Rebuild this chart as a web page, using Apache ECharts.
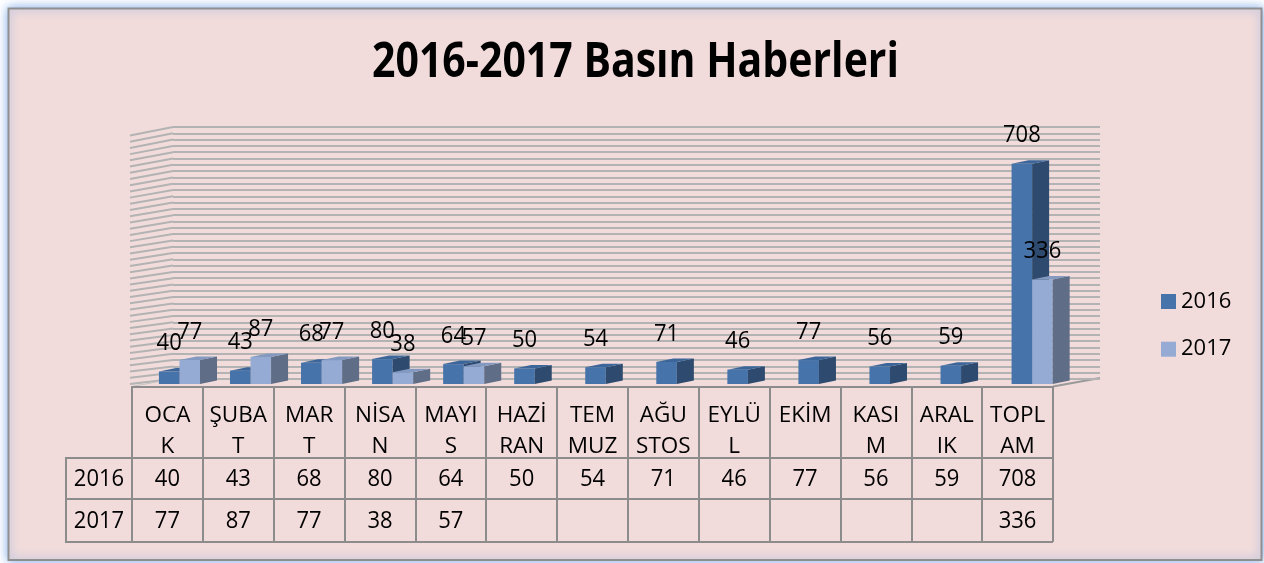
<!DOCTYPE html>
<html>
<head>
<meta charset="utf-8">
<script src="https://cdn.jsdelivr.net/npm/echarts@6/dist/echarts.min.js"></script>
<style>
html,body{margin:0;padding:0;background:#ffffff;}
#chart{width:1264px;height:563px;}
</style>
</head>
<body>
<div id="chart"></div>
<script>
const titleText = '2016-2017 Basın Haberleri';
const categories = ['OCA\nK','ŞUBA\nT','MAR\nT','NİSA\nN','MAYI\nS','HAZİ\nRAN','TEM\nMUZ','AĞU\nSTOS','EYLÜ\nL','EKİM','KASI\nM','ARAL\nIK','TOPL\nAM'];
const seriesNames = ['2016','2017'];
const values2016 = [40,43,68,80,64,50,54,71,46,77,56,59,708];
const values2017 = [77,87,77,38,57,null,null,null,null,null,null,null,336];
const yMax = 800;
const yStep = 20;

const FONT = 'Open Sans';
const palette = [
  {front:'#4673A9', side:'#2E4A6E', top:'#3C6699'},
  {front:'#95ABD3', side:'#5F6D87', top:'#8499C0'}
];
const tableRowY = [479, 521];
const TXT = '22px "' + FONT + '"';

function makeRender(slot){
  const pal = palette[slot];
  return function(params, api){
    const idx = api.value(0);
    const v = api.value(1);
    const base = api.coord([idx, 0]);
    const bw = api.size([1, 0])[0];
    const cx = base[0];
    const children = [];
    if (v == null || isNaN(v)) return {type:'group', children};
    children.push({type:'text', silent:true, x:cx, y:tableRowY[slot], scaleY:1.06, style:{x:0, y:0, text:String(v), fill:'#000', font:TXT, align:'center', verticalAlign:'middle'}});
    const top = api.coord([idx, v]);
    const persp = (cx - 167) / 850 * 2.5;
    const w = bw * 0.29;
    const x0 = cx - bw * 0.12 + persp + slot * w;
    const y0 = base[1] - 2.5;
    const y1 = top[1] - 2.5;
    const dx = 17, dy = -3.5;
    children.push({type:'rect', shape:{x:x0, y:y1, width:w, height:y0 - y1}, style:{fill:pal.front}});
    children.push({type:'polygon', shape:{points:[[x0+w,y0],[x0+w,y1],[x0+w+dx,y1+dy],[x0+w+dx,y0+dy]]}, style:{fill:pal.side}});
    children.push({type:'polygon', shape:{points:[[x0,y1],[x0+w,y1],[x0+w+dx,y1+dy],[x0+dx,y1+dy]]}, style:{fill:pal.top}});
    children.push({type:'text', silent:true, x:x0 + w/2, y:y1 - 28, scaleY:1.06, style:{x:0, y:0, text:String(v), fill:'#000', font:TXT, align:'center', verticalAlign:'middle'}});
    return {type:'group', children};
  };
}

const chart = echarts.init(document.getElementById('chart'), null, {renderer:'canvas'});
const option = {
  backgroundColor: '#ffffff',
  animation: false,
  legend: {
    orient: 'vertical', left: 1161, top: 288.5, padding: 0,
    itemWidth: 15, itemHeight: 15, itemGap: 21.7, icon: 'rect',
    textStyle: {fontFamily: FONT, fontSize: 22, color: '#000', lineHeight: 26},
    data: seriesNames
  },
  grid: [
    {left: 132, right: 211, top: 137.7, bottom: 176.5, containLabel: false},
    {left: 173, right: 164, top: 127, bottom: 184, containLabel: false}
  ],
  xAxis: [
    {
      type: 'category', gridIndex: 0, data: categories, boundaryGap: true,
      axisLine: {show: true, lineStyle: {color: '#8c8c8c', width: 2}},
      axisTick: {show: true, alignWithLabel: false, length: 155.5, lineStyle: {color: '#8c8c8c', width: 2}},
      axisLabel: {interval: 0, margin: 13, fontFamily: FONT, fontSize: 22.5, color: '#000', lineHeight: 31.5, verticalAlign: 'top'},
      splitLine: {show: false}
    },
    {type: 'category', gridIndex: 1, data: categories, show: false}
  ],
  yAxis: [
    {type: 'value', gridIndex: 0, min: 0, max: yMax, interval: yStep, show: false, splitLine: {show: false}},
    {type: 'value', gridIndex: 1, min: 0, max: yMax, interval: yStep, show: true,
      axisLine: {show: false}, axisTick: {show: false}, axisLabel: {show: false},
      splitLine: {show: true, lineStyle: {color: '#b3b3b3', width: 2}}}
  ],
  series: [
    {name: seriesNames[0], type: 'custom', xAxisIndex: 0, yAxisIndex: 0, renderItem: makeRender(0),
      itemStyle: {color: palette[0].front}, encode: {x: 0, y: 1}, clip: false, z: 5,
      data: values2016.map((v, i) => [i, v])},
    {name: seriesNames[1], type: 'custom', xAxisIndex: 0, yAxisIndex: 0, renderItem: makeRender(1),
      itemStyle: {color: palette[1].front}, encode: {x: 0, y: 1}, clip: false, z: 6,
      data: values2017.map((v, i) => [i, v])}
  ]
};
chart.setOption(option);

// decorative frame, title, left wall, floor and table rules
const gfx = [];
gfx.push({type:'rect', z:-100, silent:true, shape:{x:8.5, y:8.5, width:1253, height:551.5},
  style:{fill:'#f2dcdb', stroke:'#8f8f8f', lineWidth:2, shadowBlur:10, shadowColor:'rgba(110,160,230,0.9)'}});
gfx.push({type:'text', silent:true, x:635.5, y:63, scaleY:1.16,
  style:{x:0, y:0, text:titleText, fill:'#000', font:'bold 41px "' + FONT + '"', align:'center', verticalAlign:'middle'}});
for (let v = 0; v <= yMax; v += yStep) {
  const yb = chart.convertToPixel({yAxisIndex: 1}, v);
  const drop = 5 + 3.5 * (v / yMax);
  gfx.push({type:'polyline', z:-50, silent:true, shape:{points:[[130, yb + drop],[173, yb]]}, style:{stroke:'#b3b3b3', lineWidth:2}});
}
const y0main = chart.convertToPixel({yAxisIndex: 0}, 0);
const y0back = chart.convertToPixel({yAxisIndex: 1}, 0);
const xRight = 1264 - 211;
gfx.push({type:'polyline', z:-40, silent:true, shape:{points:[[xRight, y0main],[1100, y0back - 1]]}, style:{stroke:'#9a9a9a', lineWidth:2}});
gfx.push({type:'polyline', z:-40, silent:true, shape:{points:[[132, y0main],[173, y0back]]}, style:{stroke:'#c4c4c4', lineWidth:1}});
[458, 499, 542].forEach(y => gfx.push({type:'line', silent:true, shape:{x1:65, y1:y, x2:xRight, y2:y}, style:{stroke:'#8c8c8c', lineWidth:2}}));
gfx.push({type:'line', silent:true, shape:{x1:66, y1:458, x2:66, y2:542}, style:{stroke:'#8c8c8c', lineWidth:2}});
seriesNames.forEach((n, k) => gfx.push({type:'text', silent:true, x:99, y:tableRowY[k], scaleY:1.06, style:{x:0, y:0, text:n, fill:'#000', font:TXT, align:'center', verticalAlign:'middle'}}));
chart.setOption({graphic: gfx});
</script>
</body>
</html>
